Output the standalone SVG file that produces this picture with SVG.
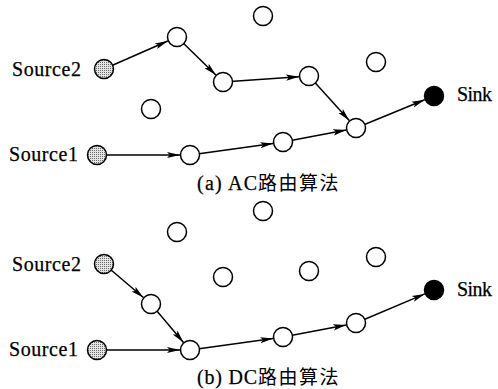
<svg xmlns="http://www.w3.org/2000/svg" width="498" height="389" viewBox="0 0 498 389">
  <defs>
    <style>
      .node { fill: #ffffff; stroke: #000000; stroke-width: 1.5; }
      .src { fill: url(#stipple); stroke: #000000; stroke-width: 1.5; }
      .sink { fill: #000000; stroke: #000000; stroke-width: 1.5; }
      .edge { stroke: #000000; stroke-width: 1.5; fill: none; marker-end: url(#arrow); }
      .lbl { font-family: "Liberation Serif", "Times New Roman", serif; font-size: 20px; fill: #000000; stroke: #000000; stroke-width: 0.25; }
      .cap { font-family: "Liberation Serif", "Times New Roman", serif; font-size: 20px; fill: #000000; stroke: #000000; stroke-width: 0.25; }
      .cjk { font-family: "Noto Sans CJK SC", "Liberation Serif", sans-serif; font-size: 19px; letter-spacing: 1.5px; fill: #000000; }
    </style>
    <pattern id="stipple" width="2" height="2" patternUnits="userSpaceOnUse">
      <rect width="2" height="2" fill="#e4e4e4"/>
      <rect width="1" height="1" fill="#6a6a6a"/>
    </pattern>
    <marker id="arrow" markerUnits="userSpaceOnUse" markerWidth="14" markerHeight="8" refX="13" refY="4" orient="auto">
      <path d="M0,0.9 L13,4 L0,7.1 L2.8,4 z" fill="#000000"/>
    </marker>
  </defs>

  <!-- connectors -->
  <g id="connectors">
    <!-- (a) AC routing -->
    <line class="edge" x1="104" y1="69" x2="167.8" y2="41"/>
    <line class="edge" x1="177" y1="37" x2="215.9" y2="75"/>
    <line class="edge" x1="223" y1="82" x2="299" y2="76.7"/>
    <line class="edge" x1="309" y1="76" x2="349.3" y2="120.6"/>
    <line class="edge" x1="97" y1="155" x2="180" y2="155"/>
    <line class="edge" x1="190" y1="155" x2="273.1" y2="143.4"/>
    <line class="edge" x1="283" y1="142" x2="346.2" y2="129.9"/>
    <line class="edge" x1="356" y1="128" x2="424.7" y2="99.8"/>
    <!-- (b) DC routing -->
    <line class="edge" x1="104" y1="264" x2="143.4" y2="297.5"/>
    <line class="edge" x1="151" y1="304" x2="183.5" y2="342.4"/>
    <line class="edge" x1="97" y1="350" x2="180" y2="350"/>
    <line class="edge" x1="190" y1="350" x2="273.1" y2="338.4"/>
    <line class="edge" x1="283" y1="337" x2="346.2" y2="324.9"/>
    <line class="edge" x1="356" y1="323" x2="424.8" y2="293.9"/>
  </g>

  <!-- (a) nodes -->
  <g id="a-source2"><circle class="src" cx="104" cy="69" r="9.5"/><text class="lbl" x="12" y="76" textLength="69" lengthAdjust="spacing">Source2</text></g>
  <g id="a-source1"><circle class="src" cx="97" cy="155" r="9.5"/><text class="lbl" x="9" y="161" textLength="69" lengthAdjust="spacing">Source1</text></g>
  <g id="a-sink"><circle class="sink" cx="434" cy="96" r="9.5"/><text class="lbl" x="457" y="101" textLength="35" lengthAdjust="spacing">Sink</text></g>
  <g id="a-n1"><circle class="node" cx="177" cy="37" r="9.5"/></g>
  <g id="a-n2"><circle class="node" cx="223" cy="82" r="9.5"/></g>
  <g id="a-n3"><circle class="node" cx="263" cy="16" r="9.5"/></g>
  <g id="a-n4"><circle class="node" cx="309" cy="76" r="9.5"/></g>
  <g id="a-n5"><circle class="node" cx="376" cy="62" r="9.5"/></g>
  <g id="a-n6"><circle class="node" cx="151" cy="109" r="9.5"/></g>
  <g id="a-n7"><circle class="node" cx="190" cy="155" r="9.5"/></g>
  <g id="a-n8"><circle class="node" cx="283" cy="142" r="9.5"/></g>
  <g id="a-n9"><circle class="node" cx="356" cy="128" r="9.5"/></g>
  <g id="a-caption">
    <text class="cap" x="197" y="190" textLength="60" lengthAdjust="spacing">(a) AC</text>
    <text class="cjk" x="258" y="190">路由算法</text>
  </g>

  <!-- (b) nodes -->
  <g id="b-source2"><circle class="src" cx="104" cy="264" r="9.5"/><text class="lbl" x="12" y="271" textLength="69" lengthAdjust="spacing">Source2</text></g>
  <g id="b-source1"><circle class="src" cx="97" cy="350" r="9.5"/><text class="lbl" x="9" y="356" textLength="69" lengthAdjust="spacing">Source1</text></g>
  <g id="b-sink"><circle class="sink" cx="434" cy="290" r="9.5"/><text class="lbl" x="457" y="296" textLength="35" lengthAdjust="spacing">Sink</text></g>
  <g id="b-n1"><circle class="node" cx="177" cy="232" r="9.5"/></g>
  <g id="b-n2"><circle class="node" cx="223" cy="277" r="9.5"/></g>
  <g id="b-n3"><circle class="node" cx="263" cy="211" r="9.5"/></g>
  <g id="b-n4"><circle class="node" cx="309" cy="271" r="9.5"/></g>
  <g id="b-n5"><circle class="node" cx="376" cy="257" r="9.5"/></g>
  <g id="b-n6"><circle class="node" cx="151" cy="304" r="9.5"/></g>
  <g id="b-n7"><circle class="node" cx="190" cy="350" r="9.5"/></g>
  <g id="b-n8"><circle class="node" cx="283" cy="337" r="9.5"/></g>
  <g id="b-n9"><circle class="node" cx="356" cy="323" r="9.5"/></g>
  <g id="b-caption">
    <text class="cap" x="197" y="384" textLength="60" lengthAdjust="spacing">(b) DC</text>
    <text class="cjk" x="258" y="384">路由算法</text>
  </g>
</svg>
